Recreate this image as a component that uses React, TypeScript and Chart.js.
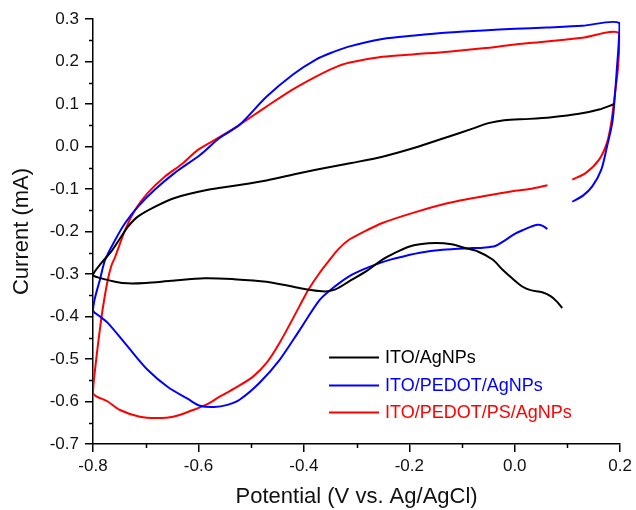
import React, { useEffect, useRef } from 'react';
import { Chart, registerables } from 'chart.js';

Chart.register(...registerables);

const seriesLabels = ['ITO/AgNPs', 'ITO/PEDOT/AgNPs', 'ITO/PEDOT/PS/AgNPs'];
const seriesColors = ['#000000', '#0000ff', '#ff0000'];

const xMinorTicks = [-0.7, -0.5, -0.3, -0.1, 0.1];
const yMinorTicks = [-0.65, -0.55, -0.45, -0.35, -0.25, -0.15, -0.05, 0.05, 0.15, 0.25];

// ITO/AgNPs (potential V, current mA), in scan order
const agnpsPoints: [number, number][] = [
  [0.090, -0.380], [0.080, -0.365], [0.068, -0.352], [0.052, -0.343], [0.030, -0.338],
  [0.015, -0.330], [-0.005, -0.310], [-0.023, -0.290], [-0.042, -0.266], [-0.070, -0.247],
  [-0.094, -0.239], [-0.120, -0.230], [-0.150, -0.227], [-0.180, -0.230], [-0.201, -0.236],
  [-0.230, -0.252], [-0.251, -0.266], [-0.280, -0.292], [-0.315, -0.318], [-0.340, -0.336],
  [-0.360, -0.341], [-0.390, -0.337], [-0.420, -0.330], [-0.471, -0.318], [-0.535, -0.312],
  [-0.588, -0.310], [-0.652, -0.316], [-0.700, -0.321], [-0.734, -0.322], [-0.758, -0.318],
  [-0.791, -0.308], [-0.800, -0.302],
  [-0.784, -0.274], [-0.766, -0.248], [-0.747, -0.213], [-0.734, -0.189], [-0.715, -0.165],
  [-0.683, -0.142], [-0.645, -0.121], [-0.582, -0.102], [-0.535, -0.093], [-0.471, -0.080],
  [-0.420, -0.066], [-0.370, -0.053], [-0.310, -0.039], [-0.251, -0.024], [-0.190, -0.003],
  [-0.126, 0.023], [-0.080, 0.042], [-0.050, 0.055], [-0.020, 0.062], [0.028, 0.065],
  [0.070, 0.069], [0.122, 0.077], [0.160, 0.087], [0.189, 0.100],
];

// ITO/PEDOT/AgNPs
const pedotPoints: [number, number][] = [
  [0.062, -0.194], [0.052, -0.186], [0.043, -0.184], [0.030, -0.189], [0.015, -0.197],
  [0.001, -0.205], [-0.020, -0.222], [-0.037, -0.234], [-0.060, -0.238], [-0.080, -0.239],
  [-0.137, -0.243], [-0.180, -0.250], [-0.226, -0.263], [-0.251, -0.272], [-0.285, -0.288],
  [-0.315, -0.306], [-0.345, -0.333], [-0.370, -0.361], [-0.408, -0.432], [-0.446, -0.502],
  [-0.484, -0.556], [-0.522, -0.596], [-0.545, -0.608], [-0.570, -0.613], [-0.597, -0.610],
  [-0.620, -0.594], [-0.658, -0.566], [-0.696, -0.526], [-0.734, -0.471], [-0.772, -0.415],
  [-0.790, -0.397], [-0.800, -0.386],
  [-0.797, -0.360], [-0.794, -0.345], [-0.787, -0.314], [-0.777, -0.267], [-0.758, -0.220],
  [-0.739, -0.180], [-0.715, -0.142], [-0.683, -0.102], [-0.645, -0.062], [-0.597, -0.020],
  [-0.560, 0.020], [-0.522, 0.051], [-0.471, 0.117], [-0.420, 0.170], [-0.378, 0.204],
  [-0.345, 0.222], [-0.315, 0.235], [-0.251, 0.253], [-0.190, 0.261], [-0.126, 0.268],
  [-0.060, 0.273], [0.001, 0.277], [0.060, 0.280], [0.128, 0.284], [0.198, 0.291],
  [0.197, 0.240], [0.194, 0.188], [0.190, 0.120], [0.185, 0.056], [0.175, 0.000],
  [0.164, -0.055], [0.147, -0.094], [0.130, -0.115], [0.109, -0.130],
];

// ITO/PEDOT/PS/AgNPs
const pedotPsPoints: [number, number][] = [
  [0.062, -0.091], [0.028, -0.100], [0.001, -0.104], [-0.060, -0.117], [-0.126, -0.133],
  [-0.190, -0.155], [-0.251, -0.180], [-0.290, -0.203], [-0.315, -0.220], [-0.335, -0.242],
  [-0.350, -0.265], [-0.370, -0.297], [-0.392, -0.338], [-0.408, -0.375], [-0.446, -0.462],
  [-0.470, -0.508], [-0.497, -0.542], [-0.530, -0.568], [-0.559, -0.588], [-0.584, -0.607],
  [-0.610, -0.620], [-0.648, -0.636], [-0.679, -0.639], [-0.711, -0.636], [-0.749, -0.620],
  [-0.772, -0.600], [-0.800, -0.580],
  [-0.794, -0.502], [-0.787, -0.431], [-0.781, -0.377], [-0.772, -0.314], [-0.765, -0.280],
  [-0.758, -0.260], [-0.739, -0.196], [-0.720, -0.149], [-0.696, -0.109], [-0.664, -0.071],
  [-0.630, -0.040], [-0.601, -0.008], [-0.560, 0.022], [-0.522, 0.051], [-0.471, 0.094],
  [-0.420, 0.135], [-0.378, 0.164], [-0.345, 0.184], [-0.315, 0.197], [-0.251, 0.211],
  [-0.190, 0.217], [-0.126, 0.223], [-0.060, 0.231], [0.001, 0.240], [0.060, 0.247],
  [0.128, 0.256], [0.198, 0.267],
  [0.196, 0.188], [0.191, 0.134], [0.183, 0.056], [0.175, 0.009], [0.160, -0.031],
  [0.135, -0.062], [0.109, -0.078],
];

const seriesPoints = [agnpsPoints, pedotPoints, pedotPsPoints];

const FONT = "'Liberation Sans', Arial, sans-serif";

const fmt = (v: number) => (Math.abs(v) < 1e-9 ? '0.0' : Number(v).toFixed(1));

const minorTickPlugin = {
  id: 'minorTicks',
  afterDraw(chart: any) {
    const { ctx } = chart;
    const xs = chart.scales.x;
    const ys = chart.scales.y;
    ctx.save();
    ctx.strokeStyle = '#000';
    ctx.lineWidth = 1.5;
    ctx.beginPath();
    xMinorTicks.forEach((v) => {
      const px = Math.round(xs.getPixelForValue(v)) + 0.5;
      ctx.moveTo(px, ys.bottom);
      ctx.lineTo(px, ys.bottom + 4);
    });
    yMinorTicks.forEach((v) => {
      const py = Math.round(ys.getPixelForValue(v)) + 0.5;
      ctx.moveTo(xs.left, py);
      ctx.lineTo(xs.left - 4, py);
    });
    ctx.stroke();
    ctx.restore();
  },
};

const insideLegendPlugin = {
  id: 'insideLegend',
  afterDraw(chart: any) {
    const { ctx, chartArea } = chart;
    const x0 = chartArea.left + 236;
    const lineLen = 50;
    const y0 = chartArea.top + 338;
    const gap = 27.5;
    ctx.save();
    ctx.font = `18px ${FONT}`;
    ctx.textBaseline = 'middle';
    ctx.textAlign = 'left';
    chart.data.datasets.forEach((ds: any, i: number) => {
      const y = Math.round(y0 + i * gap) + 0.5;
      ctx.strokeStyle = ds.borderColor;
      ctx.lineWidth = 2;
      ctx.beginPath();
      ctx.moveTo(x0, y);
      ctx.lineTo(x0 + lineLen, y);
      ctx.stroke();
      ctx.fillStyle = ds.borderColor;
      ctx.fillText(ds.label, x0 + lineLen + 6, y + 1);
    });
    ctx.restore();
  },
};

export default function App() {
  const canvasRef = useRef<HTMLCanvasElement | null>(null);

  useEffect(() => {
    document.body.style.margin = '0';
    const canvas = canvasRef.current;
    if (!canvas) return;
    const chart = new Chart(canvas, {
      type: 'scatter',
      data: {
        datasets: seriesPoints.map((pts, i) => ({
          label: seriesLabels[i],
          data: pts.map(([x, y]) => ({ x, y })),
          showLine: true,
          borderColor: seriesColors[i],
          backgroundColor: seriesColors[i],
          borderWidth: 2,
          pointRadius: 0,
          pointHoverRadius: 0,
          tension: 0.3,
          fill: false,
        })),
      },
      options: {
        responsive: false,
        animation: false,
        devicePixelRatio: 1,
        layout: { padding: { top: 19, right: 15, bottom: 0, left: 0 } },
        plugins: {
          legend: { display: false },
          tooltip: { enabled: false },
        },
        scales: {
          x: {
            type: 'linear',
            min: -0.8,
            max: 0.2,
            afterFit: (s: any) => { s.height = 66; },
            ticks: {
              stepSize: 0.2,
              callback: (v: any) => fmt(Number(v)),
              color: '#111',
              font: { family: FONT, size: 17 },
              padding: 4,
              maxRotation: 0,
              autoSkip: false,
            },
            grid: {
              display: true,
              drawOnChartArea: false,
              drawTicks: true,
              tickLength: 8,
              color: '#000',
              lineWidth: 1.5,
            },
            border: { display: true, color: '#000', width: 1.5 },
            title: {
              display: true,
              text: 'Potential (V vs. Ag/AgCl)',
              color: '#111',
              font: { family: FONT, size: 22 },
              padding: { top: 0, bottom: 0 },
            },
          },
          y: {
            type: 'linear',
            min: -0.7,
            max: 0.3,
            afterFit: (s: any) => { s.width = 93; },
            ticks: {
              stepSize: 0.1,
              callback: (v: any) => fmt(Number(v)),
              color: '#111',
              font: { family: FONT, size: 17 },
              padding: 6,
              autoSkip: false,
            },
            grid: {
              display: true,
              drawOnChartArea: false,
              drawTicks: true,
              tickLength: 8,
              color: '#000',
              lineWidth: 1.5,
            },
            border: { display: true, color: '#000', width: 1.5 },
            title: {
              display: true,
              text: 'Current (mA)',
              color: '#111',
              font: { family: FONT, size: 22 },
              padding: { top: 9, bottom: 0 },
            },
          },
        },
      },
      plugins: [minorTickPlugin, insideLegendPlugin],
    } as any);
    return () => chart.destroy();
  }, []);

  return (
    <div style={{ width: 636, height: 510 }}>
      <canvas ref={canvasRef} width={636} height={510} style={{ display: 'block' }} />
    </div>
  );
}
